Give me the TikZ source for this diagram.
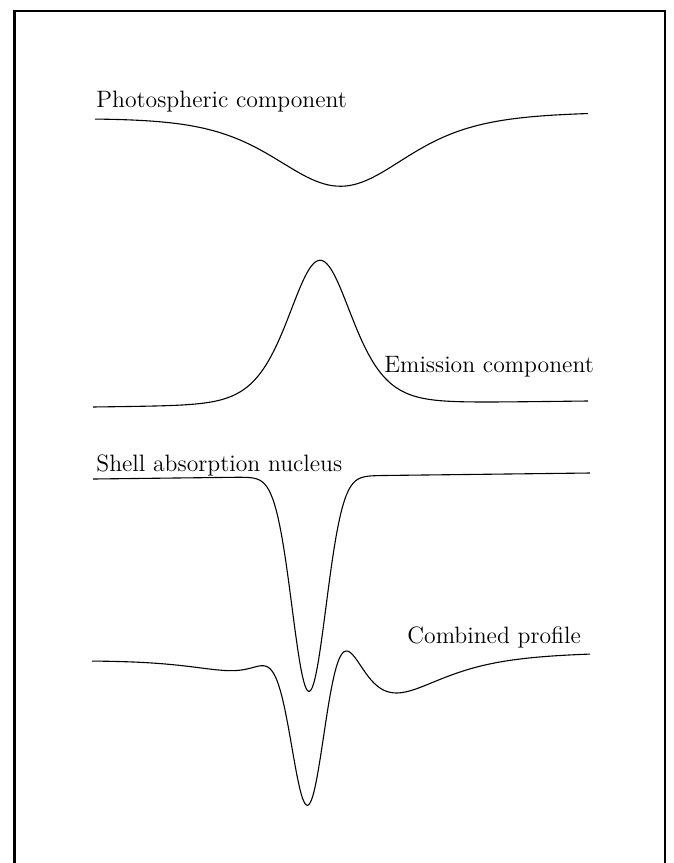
\documentclass[tikz,border=0pt]{standalone}
\begin{document}
\begin{tikzpicture}[x=0.5pt,y=-0.5pt,
  declare function={
    sechsq(\u)=(1/cosh(\u))*(1/cosh(\u));
    gau(\u)=exp(-min(\u*\u/2,12));
    phot(\x)=71*sechsq((\x-341)/88);
    emis(\x)=144*sechsq((\x-320)/43);
    shel(\x)=215*gau((\x-309)/17);
  },
  curve/.style={line width=0.55pt, line join=round},
  frameline/.style={line width=1.3pt},
  lbl/.style={anchor=base west, inner sep=0pt, font=\fontsize{11.85}{14}\selectfont}]
\useasboundingbox (0,0) rectangle (674,863);
% frame (open at the bottom)
\draw[frameline] (14.5,863) -- (14.5,11) -- (665,11) -- (665,863);
% labels
\node[lbl] (tphoto) at (96,107) {Photospheric component};
\node[lbl] (temis) at (384,372) {Emission component};
\node[lbl] (tshell) at (96,471) {Shell absorption nucleus};
\node[lbl] (tcomb) at (407,643) {Combined profile};
% curves
\draw[curve] plot[domain=95:588, samples=300]
  (\x, {118 - 5.5*(\x-95)/493 + phot(\x)});
\draw[curve] plot[domain=93:588, samples=300]
  (\x, {407 - 6*(\x-93)/495 - emis(\x)});
\draw[curve] plot[domain=93:590, samples=400]
  (\x, {479 - 6*(\x-93)/497 + shel(\x)});
\draw[curve] plot[domain=92:590, samples=450]
  (\x, {660 - 7*(\x-92)/498 + 1.08*phot(\x) - emis(\x) + shel(\x)});
\end{tikzpicture}
\end{document}
